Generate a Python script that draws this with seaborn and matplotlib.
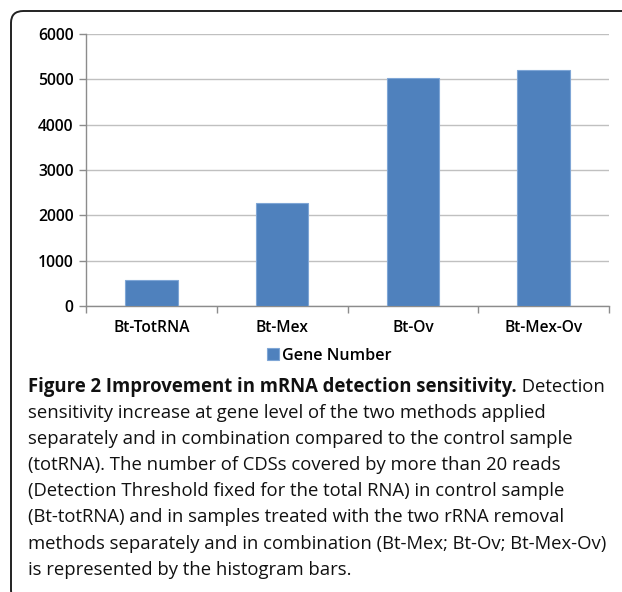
import matplotlib
matplotlib.use("Agg")
import matplotlib.pyplot as plt
import seaborn as sns
import pandas as pd
from matplotlib.patches import FancyBboxPatch

categories = ["Bt-TotRNA", "Bt-Mex", "Bt-Ov", "Bt-Mex-Ov"]
values = [574, 2280, 5026, 5216]
series_label = "Gene Number"
yticks = [0, 1000, 2000, 3000, 4000, 5000, 6000]

caption_bold = "Figure 2 Improvement in mRNA detection sensitivity."
caption_lines = [
    " Detection",
    "sensitivity increase at gene level of the two methods applied",
    "separately and in combination compared to the control sample",
    "(totRNA). The number of CDSs covered by more than 20 reads",
    "(Detection Threshold fixed for the total RNA) in control sample",
    "(Bt-totRNA) and in samples treated with the two rRNA removal",
    "methods separately and in combination (Bt-Mex; Bt-Ov; Bt-Mex-Ov)",
    "is represented by the histogram bars.",
]

sns.set_theme(style="white")
plt.rcParams["font.family"] = ["Open Sans", "DejaVu Sans"]

W, H = 622, 592
fig = plt.figure(figsize=(W / 100, H / 100), dpi=100)
ax = fig.add_axes([86 / W, 1 - 306 / H, (609 - 86) / W, (306 - 34) / H])

df = pd.DataFrame({"cat": categories, "val": values})
sns.barplot(data=df, x="cat", y="val", color="#4F81BD", width=0.4,
            edgecolor="#7FA6D6", linewidth=0.8, saturation=1, ax=ax,
            label=series_label, zorder=3)

ax.set_xlim(-0.5, len(categories) - 0.5)
ax.set_ylim(0, 6000)
ax.set_yticks(yticks)
ax.set_yticklabels([str(v) for v in yticks], fontsize=11.3, color="#000000",
                   fontweight="semibold")
for lab in ax.get_xticklabels():
    lab.set_fontweight("semibold")
    lab.set_fontsize(11.2)
    lab.set_color("#000000")
ax.yaxis.grid(True, color="#C0C0C0", linewidth=1.0, zorder=0)
ax.set_axisbelow(True)
ax.set_xlabel("")
ax.set_ylabel("")
for s in ["top", "right"]:
    ax.spines[s].set_visible(False)
for s in ["left", "bottom"]:
    ax.spines[s].set_color("#8C8C8C")
    ax.spines[s].set_linewidth(1.0)
ax.tick_params(axis="y", which="major", left=True, length=5, width=1, color="#8C8C8C", pad=4)
ax.tick_params(axis="x", which="major", bottom=False, pad=4)
ax.set_xticks([i - 0.5 for i in range(len(categories) + 1)], minor=True)
ax.tick_params(axis="x", which="minor", bottom=True, length=5, width=1, color="#8C8C8C")

leg = ax.legend(loc="center left", bbox_to_anchor=(267 / W, 1 - 356 / H),
                bbox_transform=fig.transFigure, frameon=False,
                prop={"size": 11.6, "weight": "semibold"},
                handlelength=0.75, handleheight=0.75, handletextpad=0.2,
                borderpad=0, borderaxespad=0)
for txt in leg.get_texts():
    txt.set_color("#000000")

# border box
box = FancyBboxPatch((11 / W, -10 / H), 700 / W, (592 - 11 + 10) / H,
                     boxstyle="round,pad=0,rounding_size=0.02",
                     transform=fig.transFigure, fill=False,
                     edgecolor="#222222", linewidth=1.4, clip_on=False)
fig.patches.append(box)

# caption
fs = 13.35
x0 = 28 / W
y0 = 387
step = 26.1
fig.canvas.draw()
r = fig.canvas.get_renderer()
t = fig.text(x0, 1 - y0 / H, caption_bold, fontsize=fs, fontweight="bold",
             va="center", ha="left", color="#111111")
bb = t.get_window_extent(renderer=r)
fig.text(bb.x1 / W, 1 - y0 / H, caption_lines[0], fontsize=fs,
         va="center", ha="left", color="#111111")
for i, line in enumerate(caption_lines[1:], start=1):
    fig.text(x0, 1 - (y0 + i * step) / H, line, fontsize=fs,
             va="center", ha="left", color="#111111")

fig.savefig("out.png", dpi=100)
